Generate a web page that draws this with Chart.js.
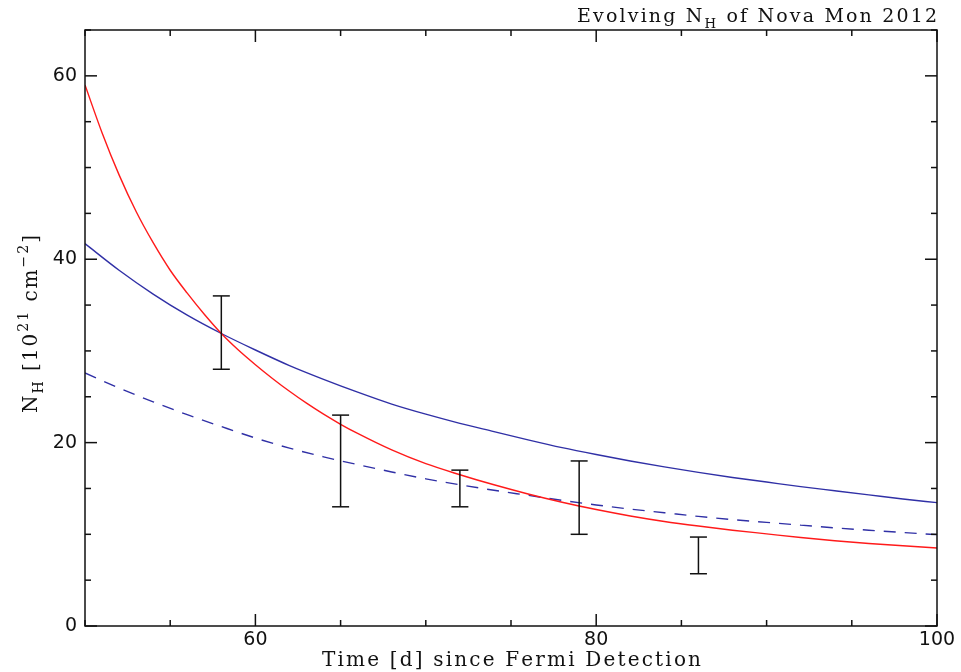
<!DOCTYPE html>
<html>
<head>
<meta charset="utf-8">
<script src="https://cdn.jsdelivr.net/npm/chart.js@4.4.0/dist/chart.umd.min.js"></script>
<style>
  html, body { margin: 0; padding: 0; background: #fff; }
  #wrap { width: 961px; height: 672px; }
</style>
</head>
<body>
<div id="wrap"><canvas id="nhChart"></canvas></div>
<script>
// red model curve
const redDays = [50,51,52,53,54,55,56,57,58,59,60,61,62,63,64,65,66,68,70,72,74,76,78,80,82,84,86,88,90,92,94,96,98,100];
const redNH = [59.0,53.8,49.2,45.2,41.8,38.8,36.3,34.0,31.9,30.1,28.5,27.0,25.6,24.3,23.1,22.0,21.0,19.2,17.7,16.5,15.4,14.4,13.5,12.7,12.0,11.4,10.9,10.45,10.05,9.65,9.3,9.0,8.75,8.5];

// blue solid and dashed model curves
const blueDays = [50,52,54,56,58,60,62,64,66,68,70,72,74,76,78,80,82,84,86,88,90,92,94,96,98,100];
const blueNH = [41.7,38.8,36.2,33.9,31.9,30.1,28.4,26.9,25.5,24.2,23.1,22.1,21.2,20.3,19.45,18.7,18.0,17.35,16.75,16.2,15.7,15.2,14.75,14.3,13.85,13.45];
const dashNH = [27.6,25.95,24.45,23.05,21.75,20.5,19.4,18.45,17.6,16.8,16.05,15.4,14.8,14.25,13.7,13.2,12.75,12.35,11.95,11.6,11.3,11.0,10.7,10.45,10.2,9.96];

// measurements (error bars only)
const obsDays = [58, 65, 72, 79, 86];
const obsLow = [28, 13, 13, 10, 5.7];
const obsHigh = [36, 23, 17, 18, 9.7];

// axes
const xTickValues = [50,55,60,65,70,75,80,85,90,95,100];
const yTickValues = [0,5,10,15,20,25,30,35,40,45,50,55,60,65];
const xLabelValues = [60, 80, 100];
const yLabelValues = [0, 20, 40, 60];

const RED = '#ff1a1a';
const BLUE = '#3030a6';
const INK = '#111';

function toPoints(xs, ys) {
    return xs.map((d, i) => ({ x: d, y: ys[i] }));
}

// draws text with sub/superscripts, stretched to a given width (IDL vector font is wide)
function drawRich(ctx, parts, size, family, targetWidth) {
    const glyphs = [];
    parts.forEach(([txt, mode]) => {
        const fs = mode ? size * 0.7 : size;
        const dy = mode === 'sub' ? size * 0.32 : mode === 'sup' ? -size * 0.45 : 0;
        for (const ch of txt) glyphs.push({ ch, fs, dy });
    });
    let natural = 0;
    glyphs.forEach(g => {
        ctx.font = g.fs + 'px ' + family;
        g.w = ctx.measureText(g.ch).width;
        natural += g.w;
    });
    const gap = glyphs.length > 1 ? (targetWidth - natural) / (glyphs.length - 1) : 0;
    let cx = 0;
    glyphs.forEach(g => {
        ctx.font = g.fs + 'px ' + family;
        ctx.fillText(g.ch, cx, g.dy);
        cx += g.w + gap;
    });
}

const framePlugin = {
    id: 'framePlugin',
    afterDatasetsDraw(chart) {
        const { ctx, chartArea: a, scales: { x, y } } = chart;
        ctx.save();
        ctx.strokeStyle = INK;
        ctx.lineWidth = 1.5;
        ctx.lineCap = 'butt';

        const seg = (x1, y1, x2, y2) => {
            ctx.beginPath();
            ctx.moveTo(x1, y1);
            ctx.lineTo(x2, y2);
            ctx.stroke();
        };

        // error bars
        obsDays.forEach((d, i) => {
            const px = x.getPixelForValue(d);
            const top = y.getPixelForValue(obsHigh[i]);
            const bot = y.getPixelForValue(obsLow[i]);
            seg(px, top, px, bot);
            seg(px - 8.5, top, px + 8.5, top);
            seg(px - 8.5, bot, px + 8.5, bot);
        });

        // box
        ctx.strokeRect(a.left, a.top, a.right - a.left, a.bottom - a.top);

        // inward ticks on all four sides
        xTickValues.forEach(v => {
            const px = x.getPixelForValue(v);
            const len = v % 20 === 0 ? 12 : 6;
            seg(px, a.bottom, px, a.bottom - len);
            seg(px, a.top, px, a.top + len);
        });
        yTickValues.forEach(v => {
            const py = y.getPixelForValue(v);
            const len = v % 20 === 0 ? 12 : 6;
            seg(a.left, py, a.left + len, py);
            seg(a.right, py, a.right - len, py);
        });

        // titles
        ctx.fillStyle = INK;
        ctx.textBaseline = 'alphabetic';
        ctx.textAlign = 'left';
        const serif = '"DejaVu Serif", serif';

        ctx.save();
        ctx.translate(577, 22);
        drawRich(ctx, [['Evolving N'], ['H', 'sub'], [' of Nova Mon 2012']], 19, serif, 360);
        ctx.restore();

        ctx.save();
        ctx.translate(322, 666);
        drawRich(ctx, [['Time [d] since Fermi Detection']], 20, serif, 379);
        ctx.restore();

        ctx.save();
        ctx.translate(37, 413);
        ctx.rotate(-Math.PI / 2);
        drawRich(ctx, [['N'], ['H', 'sub'], [' [10'], ['21', 'sup'], [' cm'], ['\u22122', 'sup'], [']']], 20, serif, 178);
        ctx.restore();

        ctx.restore();
    }
};

const ctx = document.getElementById('nhChart').getContext('2d');
new Chart(ctx, {
    type: 'line',
    data: {
        datasets: [
            {
                label: 'fit 1',
                data: toPoints(redDays, redNH),
                borderColor: RED,
                borderWidth: 1.4,
                pointRadius: 0,
                cubicInterpolationMode: 'monotone'
            },
            {
                label: 'fit 2',
                data: toPoints(blueDays, blueNH),
                borderColor: BLUE,
                borderWidth: 1.4,
                pointRadius: 0,
                cubicInterpolationMode: 'monotone'
            },
            {
                label: 'fit 3',
                data: toPoints(blueDays, dashNH),
                borderColor: BLUE,
                borderWidth: 1.4,
                borderDash: [12, 9],
                pointRadius: 0,
                cubicInterpolationMode: 'monotone'
            },
            {
                label: 'observed',
                data: obsDays.map((d, i) => ({ x: d, y: (obsLow[i] + obsHigh[i]) / 2 })),
                showLine: false,
                pointRadius: 0,
                borderColor: INK
            }
        ]
    },
    options: {
        responsive: true,
        maintainAspectRatio: false,
        animation: false,
        layout: { padding: { top: 30, right: 24, left: 0, bottom: 0 } },
        plugins: {
            legend: { display: false },
            tooltip: { enabled: false }
        },
        scales: {
            x: {
                type: 'linear',
                min: 50,
                max: 100,
                grid: { display: false, drawTicks: false },
                border: { display: false },
                afterBuildTicks: s => { s.ticks = xTickValues.map(v => ({ value: v })); },
                afterFit: s => { s.height = 46; },
                ticks: {
                    autoSkip: false,
                    maxRotation: 0,
                    padding: 3,
                    color: INK,
                    font: { family: '"DejaVu Sans", sans-serif', size: 19 },
                    callback: v => xLabelValues.includes(v) ? String(v) : ''
                }
            },
            y: {
                min: 0,
                max: 65,
                grid: { display: false, drawTicks: false },
                border: { display: false },
                afterBuildTicks: s => { s.ticks = yTickValues.map(v => ({ value: v })); },
                afterFit: s => { s.width = 85; },
                ticks: {
                    autoSkip: false,
                    padding: 8,
                    color: INK,
                    font: { family: '"DejaVu Sans", sans-serif', size: 19 },
                    callback: v => yLabelValues.includes(v) ? String(v) : ''
                }
            }
        }
    },
    plugins: [framePlugin]
});
</script>
</body>
</html>
